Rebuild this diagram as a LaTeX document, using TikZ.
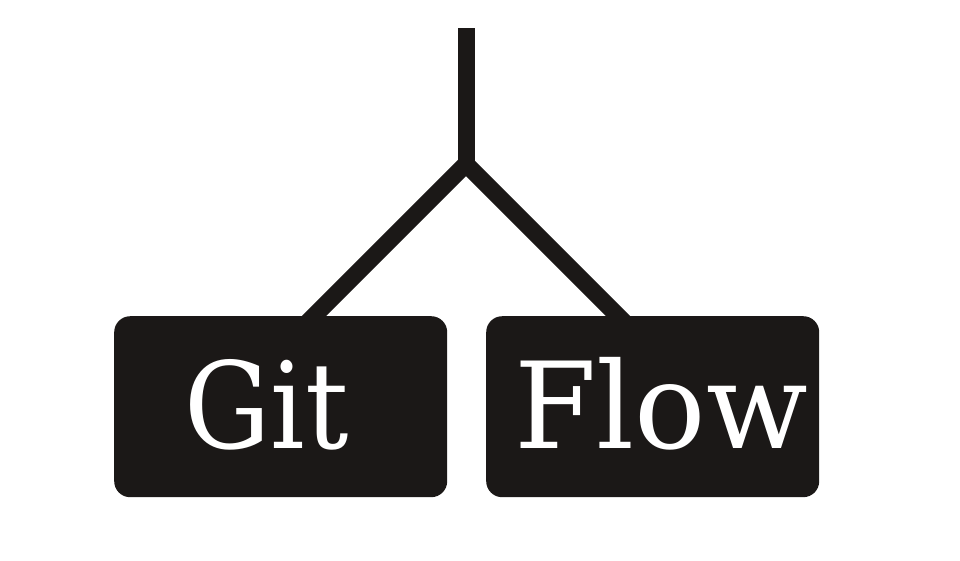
\documentclass[tikz,border=0pt]{standalone}
\usepackage{fontspec}
\setmainfont{DejaVu Serif}
\definecolor{ink}{RGB}{27,24,23}
\tikzset{
  px/.style={x=1pt,y=-1pt},
  wire/.style={draw=ink,line width=17pt,line cap=butt,line join=miter},
  box/.style={fill=ink,draw=none,rounded corners=16pt,minimum width=333pt,minimum height=181pt,inner sep=0pt,anchor=north west},
  word/.style={text=white,font=\fontsize{120}{120}\selectfont,inner sep=0pt,anchor=base west}
}
\begin{document}
\begin{tikzpicture}[px]
\useasboundingbox (0,0) rectangle (960,560);
\coordinate (top) at (466,28);
\coordinate (junction) at (466,164);
\coordinate (lend) at (306,324);
\coordinate (rend) at (626,324);
\draw[wire] (lend) -- (junction) -- (rend);
\draw[wire] (top) -- (466,168);
\node[box] (gitbox) at (114,316) {};
\node[box] (flowbox) at (486,316) {};
\node[word,xscale=0.9] (gittext) at (184,448) {Git};
\node[word,xscale=0.99] (flowtext) at (514,448) {Flow};
\end{tikzpicture}
\end{document}
